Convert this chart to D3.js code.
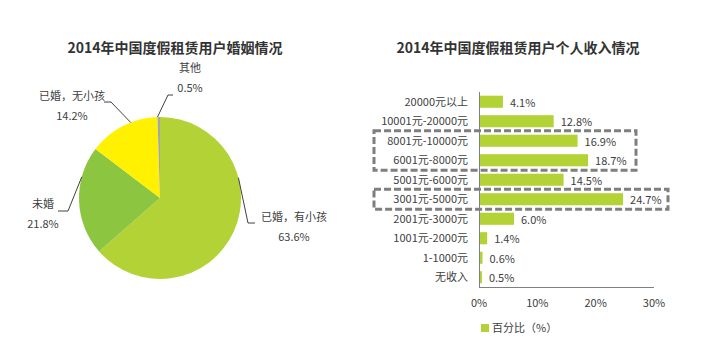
<!DOCTYPE html>
<html><head><meta charset="utf-8">
<script src="https://cdn.jsdelivr.net/npm/d3@7"></script>
<style>
body{margin:0;background:#fff;}
text{font-family:"Noto Sans CJK SC","Noto Sans",sans-serif;fill:#404040;}
</style></head>
<body><svg id="c" width="705" height="350"></svg>
<script>
const pieTitle = "2014年中国度假租赁用户婚姻情况";
const pieLabels = ["已婚，有小孩","未婚","已婚，无小孩","其他"];
const pieValues = [63.6, 21.8, 14.2, 0.5];
const pieColors = ["#b3d235","#8cc540","#fff100","#a6a6a6"];

const barTitle = "2014年中国度假租赁用户个人收入情况";
const barCategories = ["20000元以上","10001元-20000元","8001元-10000元","6001元-8000元","5001元-6000元","3001元-5000元","2001元-3000元","1001元-2000元","1-1000元","无收入"];
const barValues = [4.1, 12.8, 16.9, 18.7, 14.5, 24.7, 6.0, 1.4, 0.6, 0.5];
const xTicks = [0, 10, 20, 30];
const legendLabel = "百分比（%）";
const highlightGroups = [["8001元-10000元","6001元-8000元"],["3001元-5000元"]];

const svg = d3.select("#c");

// ---- Pie ----
svg.append("text").attr("x",175).attr("y",53).attr("text-anchor","middle")
  .style("font-size","14px").style("font-weight","bold").attr("fill","#333").style("fill","#333").text(pieTitle);

const cx=160, cy=198, r=81;
const pg = svg.append("g").attr("transform",`translate(${cx},${cy})`);
const pie = d3.pie().sort(null).value(d=>d)(pieValues);
const arc = d3.arc().innerRadius(0).outerRadius(r);
pg.selectAll("path").data(pie).join("path").attr("d",arc)
  .attr("fill",(d,i)=>pieColors[i]);

// label placements (leader lines: point on edge -> elbow -> end)
const labelPos = [
  {elbow:[88,25], end:[95,25], tx:134, ty:23, anchor:"middle"},
  {elbow:[-92,13], end:[-102,13], tx:-117, ty:10, anchor:"middle"},
  {elbow:[-49,-96], end:[-56,-96], tx:-88, ty:-98, anchor:"middle"},
  {elbow:[8,-103], end:[13,-103], tx:30, ty:-126, anchor:"middle"}
];
const arcOut = d3.arc().innerRadius(r).outerRadius(r);
pie.forEach((d,i)=>{
  const p = labelPos[i];
  let c = arcOut.centroid(d);
  if(i===3){ c=[Math.sin(d.startAngle)*r, -Math.cos(d.startAngle)*r]; }
  if(i===2){ const a=d.startAngle+(d.endAngle-d.startAngle)*0.62; c=[Math.sin(a)*r,-Math.cos(a)*r]; }
  if(i===0){ const a=d.startAngle+(d.endAngle-d.startAngle)*0.33; c=[Math.sin(a)*r,-Math.cos(a)*r]; }
  if(i===1){ const a=d.startAngle+(d.endAngle-d.startAngle)*0.72; c=[Math.sin(a)*r,-Math.cos(a)*r]; }
  pg.append("polyline").attr("points",[c,p.elbow,p.end].map(q=>q.join(",")).join(" "))
    .attr("fill","none").attr("stroke","#404040").attr("stroke-width",1);
  pg.append("text").attr("x",p.tx).attr("y",p.ty).attr("text-anchor",p.anchor)
    .style("font-size","11px").text(pieLabels[i]);
  pg.append("text").attr("x",p.tx).attr("y",p.ty+20).attr("text-anchor",p.anchor)
    .style("font-size","11px").text(pieValues[i].toFixed(1)+"%");
});
// ---- Bars ----
svg.append("text").attr("x",518).attr("y",53).attr("text-anchor","middle")
  .style("font-size","14px").style("font-weight","bold").style("fill","#333").text(barTitle);

const x = d3.scaleLinear().domain([0,30]).range([479,654]);
const y = d3.scaleBand().domain(barCategories).range([92,287]).paddingInner(0.38).paddingOuter(0.19);

svg.append("g").selectAll("rect").data(barCategories).join("rect")
  .attr("x",x(0)).attr("y",d=>y(d)).attr("height",y.bandwidth())
  .attr("width",(d,i)=>x(barValues[i])-x(0)).attr("fill","#b3d235");

svg.append("g").selectAll("text").data(barCategories).join("text")
  .attr("x",(d,i)=>x(barValues[i])+7).attr("y",d=>y(d)+y.bandwidth()/2+5)
  .style("font-size","11px").text((d,i)=>barValues[i].toFixed(1)+"%");

svg.append("g").selectAll("text").data(barCategories).join("text")
  .attr("x",468).attr("y",d=>y(d)+y.bandwidth()/2+4)
  .attr("text-anchor","end").style("font-size","11px").text(d=>d);

// axes lines
svg.append("line").attr("x1",x(0)+0.5).attr("x2",x(0)+0.5).attr("y1",92).attr("y2",287).attr("stroke","#808080");
svg.append("line").attr("x1",x(0)).attr("x2",x(30)).attr("y1",287.5).attr("y2",287.5).attr("stroke","#808080");
svg.append("g").selectAll("text").data(xTicks).join("text")
  .attr("x",d=>x(d)).attr("y",307).attr("text-anchor","middle")
  .style("font-size","11px").text(d=>d+"%");

// highlight boxes
const boxRight = [636, 668];
highlightGroups.forEach((g,i)=>{
  const top = y(g[0]) - 4, bot = y(g[g.length-1]) + y.bandwidth() + 4;
  svg.append("rect").attr("x",374).attr("y",top).attr("width",boxRight[i]-374).attr("height",bot-top)
    .attr("fill","none").attr("stroke","#7f7f7f").attr("stroke-width",3).attr("stroke-dasharray","7,3");
});

// legend
svg.append("rect").attr("x",481).attr("y",324).attr("width",8).attr("height",8).attr("fill","#b3d235");
svg.append("text").attr("x",492).attr("y",332).style("font-size","11px").text(legendLabel);
</script></body></html>
